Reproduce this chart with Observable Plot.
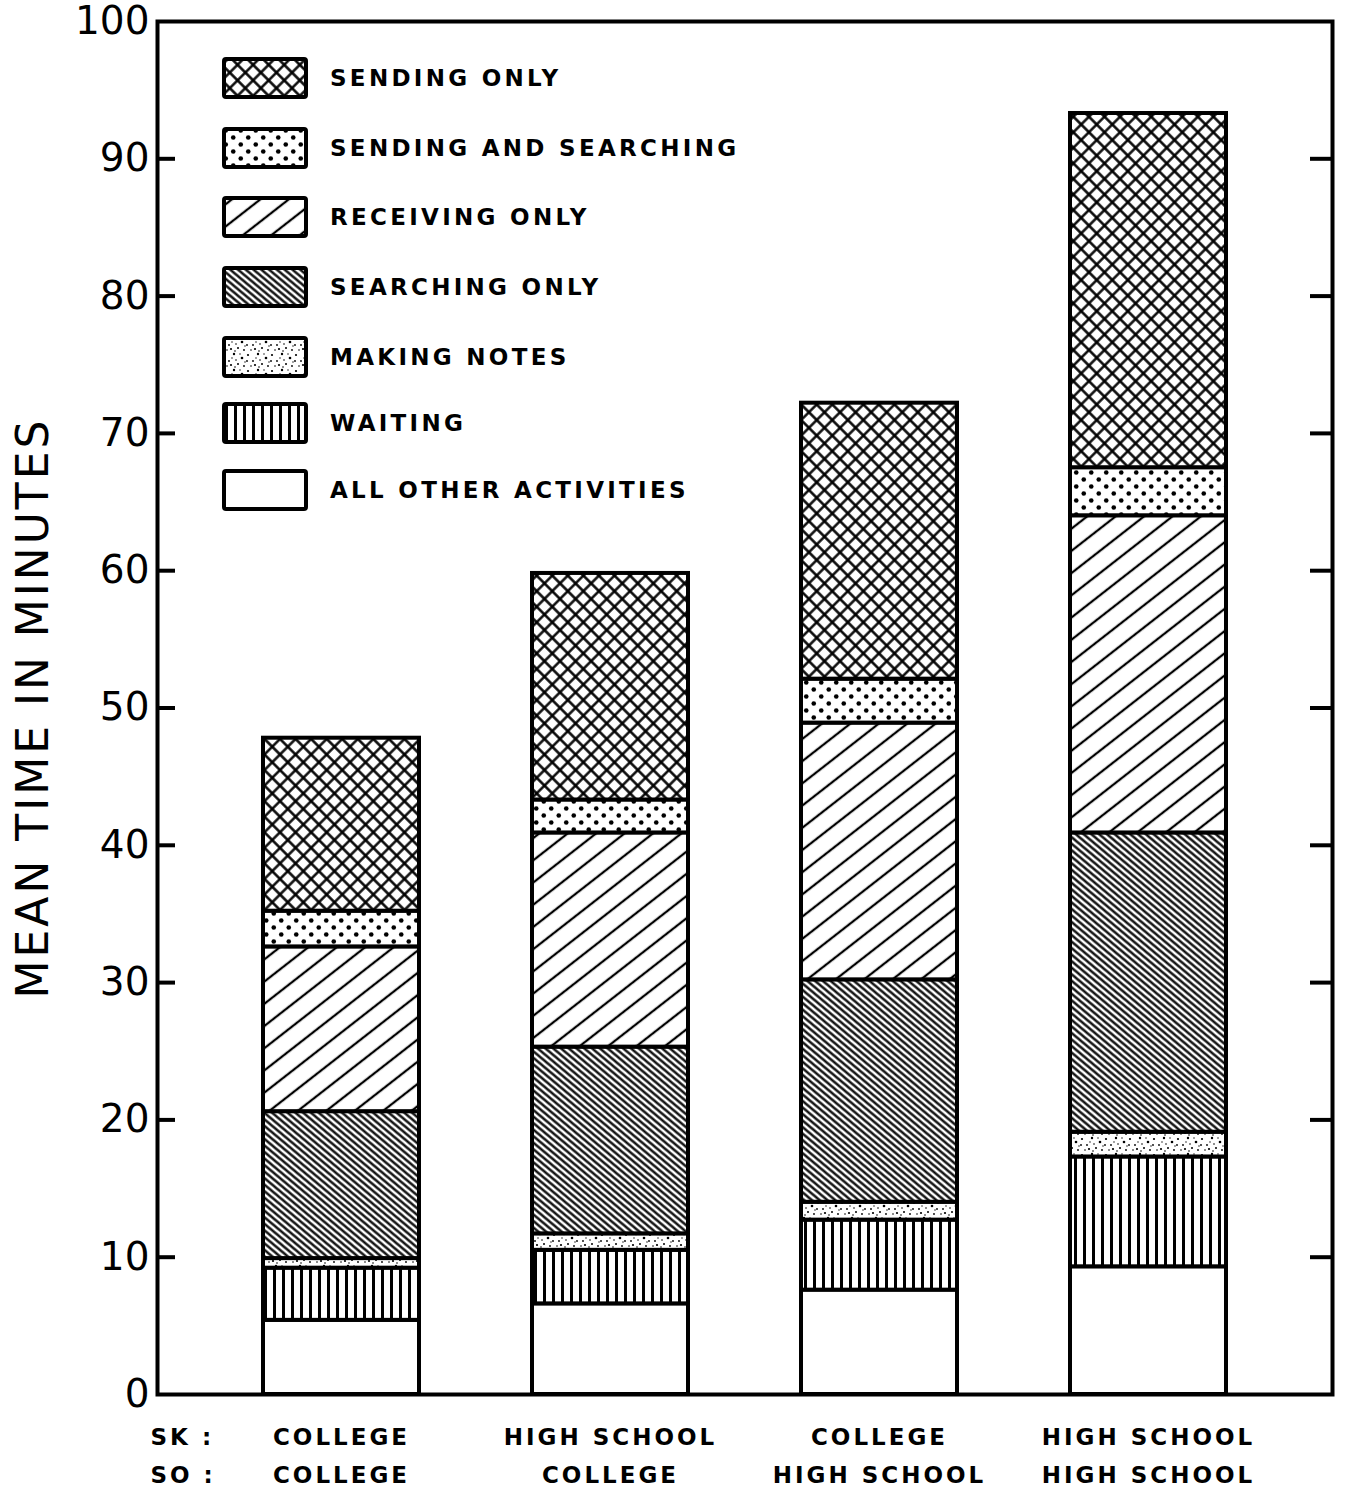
<!DOCTYPE html>
<html><head><meta charset="utf-8">
<script src="https://cdn.jsdelivr.net/npm/d3@7"></script>
<script src="https://cdn.jsdelivr.net/npm/@observablehq/plot@0.6"></script>
<style>
body{margin:0;background:#fff;}
#wrap{position:relative;width:1356px;height:1494px;background:#fff;}
#legend{position:absolute;left:222px;top:0;font-family:"DejaVu Sans",sans-serif;font-weight:bold;font-size:23px;letter-spacing:3.3px;color:#000;}
.row{position:absolute;left:0;display:flex;align-items:center;white-space:nowrap;height:42px;}
.row svg{margin-right:22px;display:block;}
</style></head>
<body>
<svg width="0" height="0" style="position:absolute"><defs>
 <pattern id="p-cross" patternUnits="userSpaceOnUse" width="11" height="11" patternTransform="rotate(45)">
  <rect width="11" height="11" fill="#fff"/>
  <path d="M0,5.5H11M5.5,0V11" stroke="#000" stroke-width="2.4"/>
 </pattern>
 <pattern id="p-dots" patternUnits="userSpaceOnUse" width="15" height="14">
  <rect width="15" height="14" fill="#fff"/>
  <circle cx="3.75" cy="3.5" r="2.3" fill="#000"/><circle cx="11.25" cy="10.5" r="2.3" fill="#000"/>
 </pattern>
 <pattern id="p-recv" patternUnits="userSpaceOnUse" width="20" height="17.5" patternTransform="rotate(-38)">
  <rect width="20" height="17.5" fill="#fff"/>
  <path d="M0,8.75H20" stroke="#000" stroke-width="2.3"/>
 </pattern>
 <pattern id="p-search" patternUnits="userSpaceOnUse" width="10" height="5" patternTransform="rotate(40)">
  <rect width="10" height="5" fill="#fff"/>
  <path d="M0,2.5H10" stroke="#000" stroke-width="2.3"/>
 </pattern>
 <pattern id="p-notes" patternUnits="userSpaceOnUse" width="24" height="16">
  <rect width="24" height="16" fill="#fff"/>
  <g fill="#000">
   <circle cx="2" cy="3" r="1.1"/><circle cx="7" cy="9" r="0.9"/><circle cx="12" cy="2" r="1.2"/>
   <circle cx="16" cy="12" r="1"/><circle cx="20" cy="6" r="1.3"/><circle cx="5" cy="14" r="0.8"/>
   <circle cx="10" cy="6" r="0.7"/><circle cx="22" cy="14" r="0.9"/><circle cx="14" cy="8" r="0.8"/>
   <circle cx="18" cy="2" r="0.7"/><circle cx="1" cy="9" r="0.9"/><circle cx="9" cy="13" r="1.1"/>
   <circle cx="23" cy="10" r="0.7"/><circle cx="13" cy="15" r="0.8"/>
  </g>
 </pattern>
 <pattern id="p-wait" patternUnits="userSpaceOnUse" width="9" height="10">
  <rect width="9" height="10" fill="#fff"/>
  <path d="M4.5,0V10" stroke="#000" stroke-width="3"/>
 </pattern>
</defs></svg>
<div id="wrap"><div id="legend"></div></div>
<script>
// Groups (SK / SO)
const sk = ["COLLEGE", "HIGH SCHOOL", "COLLEGE", "HIGH SCHOOL"];
const so = ["COLLEGE", "COLLEGE", "HIGH SCHOOL", "HIGH SCHOOL"];
// Activities, bottom to top of each stack
const categories = ["ALL OTHER ACTIVITIES", "WAITING", "MAKING NOTES", "SEARCHING ONLY", "RECEIVING ONLY", "SENDING AND SEARCHING", "SENDING ONLY"];
// Legend order (top to bottom)
const legendOrder = ["SENDING ONLY", "SENDING AND SEARCHING", "RECEIVING ONLY", "SEARCHING ONLY", "MAKING NOTES", "WAITING", "ALL OTHER ACTIVITIES"];
// Mean minutes per activity for each group
const allOther = [5.4, 6.6, 7.6, 9.3];
const waiting = [3.8, 3.9, 5.1, 8.0];
const makingNotes = [0.7, 1.2, 1.3, 1.8];
const searchingOnly = [10.7, 13.6, 16.2, 21.8];
const receivingOnly = [12.0, 15.6, 18.7, 23.1];
const sendingAndSearching = [2.6, 2.4, 3.2, 3.5];
const sendingOnly = [12.6, 16.5, 20.1, 25.8];
const yTicks = [0, 10, 20, 30, 40, 50, 60, 70, 80, 90, 100];

const seriesValues = [allOther, waiting, makingNotes, searchingOnly, receivingOnly, sendingAndSearching, sendingOnly];
const fills = ["#fff", "url(#p-wait)", "url(#p-notes)", "url(#p-search)", "url(#p-recv)", "url(#p-dots)", "url(#p-cross)"];
const groupKeys = sk.map((s, i) => s + "\n" + so[i]);

const data = [];
groupKeys.forEach((g, i) => categories.forEach((c, j) => data.push({group: g, activity: c, minutes: seriesValues[j][i]})));
const innerTicks = yTicks.slice(1, -1);

const chart = Plot.plot({
  width: 1356, height: 1494,
  marginLeft: 157, marginRight: 24, marginTop: 21, marginBottom: 100,
  style: {fontFamily: "DejaVu Sans, sans-serif", background: "#fff", color: "#000", overflow: "visible"},
  x: {domain: groupKeys, paddingInner: 0.42, paddingOuter: 0.394},
  y: {domain: [0, 100]},
  color: {type: "ordinal", domain: categories, range: fills},
  marks: [
    Plot.barY(data, Plot.stackY({x: "group", y: "minutes", z: "activity", fill: "activity", order: categories, stroke: "#000", strokeWidth: 4})),
    Plot.axisY(yTicks, {anchor: "left", tickSize: 0, tickPadding: 8, fontSize: 39, label: null}),
    Plot.tickY(innerTicks, {y: d => d, insetRight: 1157, strokeWidth: 4}),
    Plot.tickY(innerTicks, {y: d => d, insetLeft: 1153, strokeWidth: 4}),
    Plot.axisX({anchor: "bottom", tickSize: 0, tickPadding: 24, fontSize: 23, fontWeight: "bold", lineHeight: 1.65, label: null, tickFormat: d => d}),
    Plot.frame({strokeWidth: 4}),
    Plot.text(["MEAN TIME IN MINUTES"], {frameAnchor: "left", textAnchor: "middle", rotate: -90, dx: -124, fontSize: 44, text: d => d}),
    Plot.text(["SK :\nSO :"], {frameAnchor: "bottom-left", lineAnchor: "top", textAnchor: "start", dx: -7, dy: 24, fontSize: 23, fontWeight: "bold", lineHeight: 1.65, text: d => d})
  ]
});
const wrap = document.getElementById("wrap");
wrap.insertBefore(chart, wrap.firstChild);
d3.select(chart).selectAll('[aria-label="x-axis tick label"] text, [aria-label="text"] text').style("letter-spacing", "3px");

// Legend (row centres in pixels)
const legendRowCentres = [78, 148, 217, 287, 357, 423, 490];
const legend = d3.select("#legend");
legendOrder.forEach((c, i) => {
  const row = legend.append("div").attr("class", "row").style("top", (legendRowCentres[i] - 21) + "px");
  const s = row.append("svg").attr("width", 86).attr("height", 42);
  s.append("rect").attr("x", 2).attr("y", 2).attr("width", 82).attr("height", 38)
    .attr("fill", fills[categories.indexOf(c)]).attr("stroke", "#000").attr("stroke-width", 4).attr("rx", 2);
  row.append("span").text(c);
});
</script>
</body></html>
